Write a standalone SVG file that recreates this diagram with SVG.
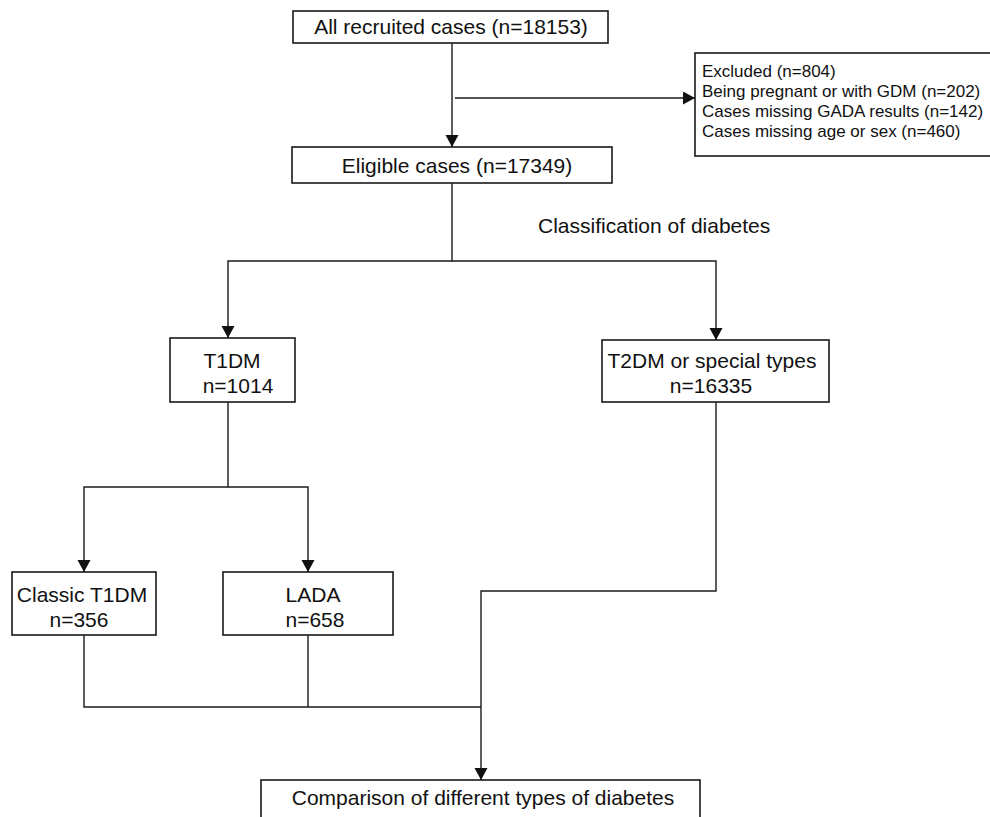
<svg xmlns="http://www.w3.org/2000/svg" width="990" height="817" viewBox="0 0 990 817">
<style>
.box{fill:#fff;stroke:#1a1a1a;stroke-width:1.6}
.t{font-family:"Liberation Sans",Arial,sans-serif;font-size:21px;fill:#111}
.s{font-family:"Liberation Sans",Arial,sans-serif;font-size:17px;fill:#111}
.c{text-anchor:middle}
.ln{fill:none;stroke:#1a1a1a;stroke-width:1.4}
</style>
<defs>
<marker id="ah" markerWidth="14" markerHeight="14" refX="12" refY="6.5" orient="auto" markerUnits="userSpaceOnUse">
<path d="M0,0 L12,6.5 L0,13 Z" fill="#111"/>
</marker>
</defs>
<rect width="990" height="817" fill="#fff"/>
<g id="connectors">
<path class="ln" d="M452,43 V147" marker-end="url(#ah)"/>
<path class="ln" d="M455,98 H695" marker-end="url(#ah)"/>
<path class="ln" d="M452,183 V261 H228 V338" marker-end="url(#ah)"/>
<path class="ln" d="M452,261 H716 V340" marker-end="url(#ah)"/>
<path class="ln" d="M228,402 V487 H84 V572" marker-end="url(#ah)"/>
<path class="ln" d="M228,487 H308 V572" marker-end="url(#ah)"/>
<path class="ln" d="M84,635 V707 H481"/>
<path class="ln" d="M308,635 V707"/>
<path class="ln" d="M716,402 V591 H481 V780" marker-end="url(#ah)"/>
</g>
<g id="all">
<rect class="box" x="293" y="11" width="315" height="32"/>
<text class="t c" x="451" y="34">All recruited cases (n=18153)</text>
</g>
<g id="excluded">
<rect class="box" x="695" y="53" width="300" height="103"/>
<text class="s" x="702" y="77">Excluded (n=804)</text>
<text class="s" x="702" y="97">Being pregnant or with GDM (n=202)</text>
<text class="s" x="702" y="117">Cases missing GADA results (n=142)</text>
<text class="s" x="702" y="137">Cases missing age or sex (n=460)</text>
</g>
<g id="eligible">
<rect class="box" x="292" y="147" width="320" height="36"/>
<text class="t c" x="457" y="173">Eligible cases (n=17349)</text>
</g>
<g id="classification">
<text class="t" x="538" y="233">Classification of diabetes</text>
</g>
<g id="t1dm">
<rect class="box" x="170" y="338" width="125" height="64"/>
<text class="t c" x="232" y="368">T1DM</text>
<text class="t c" x="238" y="393">n=1014</text>
</g>
<g id="t2dm">
<rect class="box" x="602" y="340" width="227" height="62"/>
<text class="t c" x="712" y="368">T2DM or special types</text>
<text class="t c" x="711" y="393">n=16335</text>
</g>
<g id="classic">
<rect class="box" x="12" y="572" width="144" height="63"/>
<text class="t c" x="82" y="602">Classic T1DM</text>
<text class="t c" x="79" y="627">n=356</text>
</g>
<g id="lada">
<rect class="box" x="223" y="572" width="170" height="63"/>
<text class="t c" x="313" y="602">LADA</text>
<text class="t c" x="315" y="627">n=658</text>
</g>
<g id="comparison">
<rect class="box" x="261" y="780" width="439" height="50"/>
<text class="t c" x="483" y="805">Comparison of different types of diabetes</text>
</g>
</svg>
